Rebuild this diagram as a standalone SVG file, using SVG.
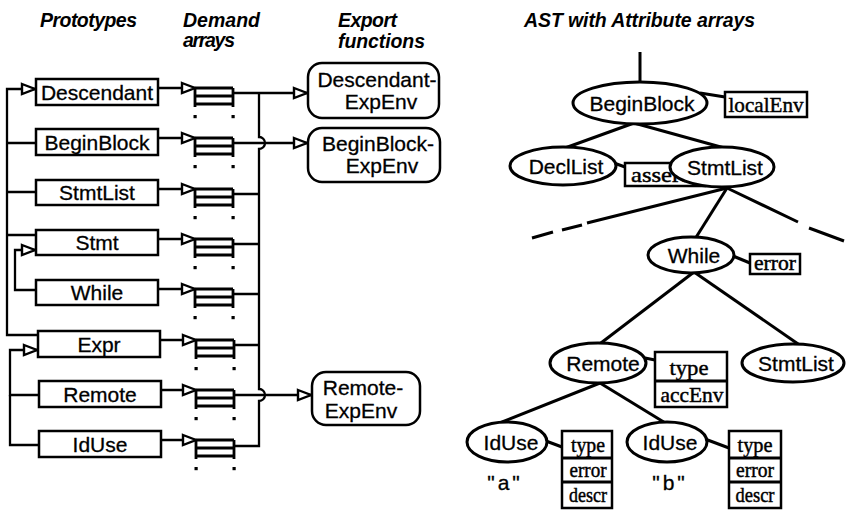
<svg xmlns="http://www.w3.org/2000/svg" width="848" height="510" viewBox="0 0 848 510">
  <style>
    .bg { fill: #ffffff; }
    .head { font-family: "Liberation Sans", Arial, sans-serif; font-style: italic; font-weight: bold; font-size: 19.5px; fill: #000; }
    .lbl { font-family: "Liberation Sans", Arial, sans-serif; font-size: 21px; fill: #000; text-anchor: middle; stroke: #000; stroke-width: 0.3px; }
    .attr { font-family: "Liberation Serif", "Times New Roman", serif; font-size: 22px; fill: #000; text-anchor: middle; stroke: #000; stroke-width: 0.45px; }
    .attr-s { font-size: 21px; }
    .box { fill: #fff; stroke: #000; stroke-width: 2.5; }
    .node { fill: #fff; stroke: #000; stroke-width: 3; }
    .wire { fill: none; stroke: #000; stroke-width: 2.3; }
    .edge { fill: none; stroke: #000; stroke-width: 3; stroke-linecap: butt; }
    .cell { fill: none; stroke: #000; stroke-width: 2.8; }
    .dot { fill: #000; }
  </style>
  <defs>
    <marker id="tri" markerUnits="userSpaceOnUse" viewBox="-2 -7 17 14" markerWidth="17" markerHeight="14" refX="13" refY="0" orient="auto">
      <path d="M0,-5 L13,0 L0,5 Z" fill="#fff" stroke="#000" stroke-width="2.4" stroke-linejoin="miter"/>
    </marker>
    <!-- demand array icon: three stacked cells with continuation dots -->
    <g id="demand">
      <path class="cell" d="M0,0 H38 M0,8 H38 M0,16 H38 M0,0 V19 M38,0 V19"/>
      <rect class="dot" x="-1.5" y="27" width="3.2" height="3.2"/>
      <rect class="dot" x="36.5" y="27" width="3.2" height="3.2"/>
    </g>
  </defs>

  <rect class="bg" x="0" y="0" width="848" height="510"/>

  <!-- column headings -->
  <g id="headings">
    <text class="head" x="40" y="27" textLength="97">Prototypes</text>
    <text class="head" x="183" y="27" textLength="77">Demand</text>
    <text class="head" x="183" y="47" textLength="52">arrays</text>
    <text class="head" x="338" y="27" textLength="59">Export</text>
    <text class="head" x="338" y="48" textLength="87">functions</text>
    <text class="head" x="524" y="27" textLength="231">AST with Attribute arrays</text>
  </g>

  <!-- connectors -->
  <g id="connectors">
    <!-- left bus into the prototypes -->
    <path class="wire" d="M38,335 H7 V89 H35" marker-end="url(#tri)"/>
    <path class="wire" d="M7,143 H37 M7,192 H37 M7,235 H37"/>
    <path class="wire" d="M37,290 H15 V250 H35" marker-end="url(#tri)"/>
    <path class="wire" d="M39,395 H10 V350 H37" marker-end="url(#tri)"/>
    <path class="wire" d="M39,445 H10 V395"/>

    <!-- prototype to demand array -->
    <path class="wire" d="M158,88 H195" marker-end="url(#tri)"/>
    <path class="wire" d="M158,138 H195" marker-end="url(#tri)"/>
    <path class="wire" d="M158,189 H195" marker-end="url(#tri)"/>
    <path class="wire" d="M158,239 H195" marker-end="url(#tri)"/>
    <path class="wire" d="M158,289 H195" marker-end="url(#tri)"/>
    <path class="wire" d="M160,340 H196" marker-end="url(#tri)"/>
    <path class="wire" d="M160,390 H196" marker-end="url(#tri)"/>
    <path class="wire" d="M160,440 H196" marker-end="url(#tri)"/>

    <!-- demand arrays to export functions -->
    <path class="wire" d="M234,93 H307" marker-end="url(#tri)"/>
    <path class="wire" d="M234,143 H307" marker-end="url(#tri)"/>
    <path class="wire" d="M235,395 H311" marker-end="url(#tri)"/>
    <path class="wire" d="M259,93 V137 A6,6 0 0 1 259,149 V389 A6,6 0 0 1 259,401 V446 H235"/>
    <path class="wire" d="M234,194 H259 M234,244 H259 M234,294 H259 M235,345 H259"/>

    <!-- AST edges -->
    <path class="edge" d="M640,52 V82"/>
    <path class="edge" d="M700,93 L725,97"/>
    <path class="edge" d="M634,123 L565,148"/>
    <path class="edge" d="M634,123 L728,149"/>
    <path class="edge" d="M614,163 L625,167"/>
    <path class="edge" d="M727,188 L695,239"/>
    <path class="edge" d="M727,188 L587,223 M582,225 L562,230 M553,232 L532,238"/>
    <path class="edge" d="M727,188 L798,222 M809,228 L844,241"/>
    <path class="edge" d="M733,256 L750,263"/>
    <path class="edge" d="M694,272 L597,346"/>
    <path class="edge" d="M694,272 L801,346"/>
    <path class="edge" d="M645,358 L655,360"/>
    <path class="edge" d="M600,383 L497,424"/>
    <path class="edge" d="M600,383 L667,424"/>
    <path class="edge" d="M546,441 L562,447"/>
    <path class="edge" d="M705,439 L729,448"/>
  </g>

  <!-- prototypes -->
  <g id="proto-descendant"><rect class="box" x="36" y="79" width="122" height="26"/><text class="lbl" x="97" y="99.5">Descendant</text></g>
  <g id="proto-beginblock"><rect class="box" x="36" y="129" width="122" height="26"/><text class="lbl" x="97" y="149.5">BeginBlock</text></g>
  <g id="proto-stmtlist"><rect class="box" x="36" y="180" width="122" height="25"/><text class="lbl" x="97" y="200">StmtList</text></g>
  <g id="proto-stmt"><rect class="box" x="36" y="230" width="122" height="25"/><text class="lbl" x="97" y="250">Stmt</text></g>
  <g id="proto-while"><rect class="box" x="36" y="280" width="122" height="25"/><text class="lbl" x="97" y="300">While</text></g>
  <g id="proto-expr"><rect class="box" x="38" y="331" width="122" height="26"/><text class="lbl" x="99" y="351.5">Expr</text></g>
  <g id="proto-remote"><rect class="box" x="39" y="381" width="122" height="26"/><text class="lbl" x="100" y="401.5">Remote</text></g>
  <g id="proto-iduse"><rect class="box" x="39" y="431" width="122" height="26"/><text class="lbl" x="100" y="451.5">IdUse</text></g>

  <!-- demand arrays -->
  <g id="demand-descendant"><use href="#demand" x="195" y="88"/></g>
  <g id="demand-beginblock"><use href="#demand" x="195" y="138"/></g>
  <g id="demand-stmtlist"><use href="#demand" x="195" y="189"/></g>
  <g id="demand-stmt"><use href="#demand" x="195" y="239"/></g>
  <g id="demand-while"><use href="#demand" x="195" y="289"/></g>
  <g id="demand-expr"><use href="#demand" x="196" y="340"/></g>
  <g id="demand-remote"><use href="#demand" x="196" y="390"/></g>
  <g id="demand-iduse"><use href="#demand" x="196" y="440"/></g>

  <!-- export functions -->
  <g id="export-descendant">
    <rect class="box" x="308" y="63" width="131" height="55" rx="14"/>
    <text class="lbl" x="377" y="87">Descendant-</text>
    <text class="lbl" x="381" y="109">ExpEnv</text>
  </g>
  <g id="export-beginblock">
    <rect class="box" x="308" y="128" width="132" height="54" rx="14"/>
    <text class="lbl" x="378" y="151">BeginBlock-</text>
    <text class="lbl" x="382" y="173">ExpEnv</text>
  </g>
  <g id="export-remote">
    <rect class="box" x="312" y="372" width="108" height="53" rx="14"/>
    <text class="lbl" x="363" y="395">Remote-</text>
    <text class="lbl" x="361" y="418">ExpEnv</text>
  </g>

  <!-- AST nodes -->
  <g id="ast-beginblock">
    <ellipse class="node" cx="640" cy="103" rx="67" ry="21"/>
    <text class="lbl" x="642" y="110.5">BeginBlock</text>
    <rect class="box" x="725" y="92" width="82" height="25"/>
    <text class="attr" x="766" y="112" textLength="75" lengthAdjust="spacingAndGlyphs">localEnv</text>
  </g>
  <g id="ast-decllist">
    <ellipse class="node" cx="563" cy="166" rx="53" ry="19"/>
    <text class="lbl" x="566" y="173.5">DeclList</text>
    <rect class="box" x="625" y="163" width="80" height="23"/>
    <text class="attr" x="631" y="182" style="text-anchor:start" textLength="56" lengthAdjust="spacingAndGlyphs">assert</text>
  </g>
  <g id="ast-stmtlist">
    <ellipse class="node" cx="722" cy="167" rx="52" ry="20"/>
    <text class="lbl" x="725" y="174.5">StmtList</text>
  </g>
  <g id="ast-while">
    <ellipse class="node" cx="691" cy="255" rx="43" ry="18"/>
    <text class="lbl" x="694" y="262.5">While</text>
    <rect class="box" x="750" y="254" width="50" height="20"/>
    <text class="attr attr-s" x="775" y="270" textLength="42" lengthAdjust="spacingAndGlyphs">error</text>
  </g>
  <g id="ast-remote">
    <ellipse class="node" cx="598" cy="363" rx="48" ry="20"/>
    <text class="lbl" x="603" y="370.5">Remote</text>
    <rect class="box" x="655" y="352" width="72" height="55"/>
    <path class="cell" d="M655,381 H727"/>
    <text class="attr" x="689" y="375" textLength="39" lengthAdjust="spacingAndGlyphs">type</text>
    <text class="attr" x="692" y="402" textLength="63" lengthAdjust="spacingAndGlyphs">accEnv</text>
  </g>
  <g id="ast-stmtlist-2">
    <ellipse class="node" cx="793" cy="363" rx="51" ry="19"/>
    <text class="lbl" x="796" y="370.5">StmtList</text>
  </g>
  <g id="ast-iduse-a">
    <ellipse class="node" cx="507" cy="442" rx="40" ry="20"/>
    <text class="lbl" x="511" y="449.5">IdUse</text>
    <rect class="box" x="562" y="431" width="50" height="77"/>
    <path class="cell" d="M562,458 H612 M562,482 H612"/>
    <text class="attr attr-s" x="588" y="452" textLength="34" lengthAdjust="spacingAndGlyphs">type</text>
    <text class="attr attr-s" x="588" y="477" textLength="37" lengthAdjust="spacingAndGlyphs">error</text>
    <text class="attr attr-s" x="588" y="502" textLength="38" lengthAdjust="spacingAndGlyphs">descr</text>
    <text class="lbl" x="505" y="490" style="letter-spacing:3px">"a"</text>
  </g>
  <g id="ast-iduse-b">
    <ellipse class="node" cx="667" cy="442" rx="40" ry="20"/>
    <text class="lbl" x="670" y="449.5">IdUse</text>
    <rect class="box" x="729" y="431" width="52" height="77"/>
    <path class="cell" d="M729,458 H781 M729,482 H781"/>
    <text class="attr attr-s" x="755" y="452" textLength="35" lengthAdjust="spacingAndGlyphs">type</text>
    <text class="attr attr-s" x="755" y="477" textLength="38" lengthAdjust="spacingAndGlyphs">error</text>
    <text class="attr attr-s" x="755" y="502" textLength="39" lengthAdjust="spacingAndGlyphs">descr</text>
    <text class="lbl" x="670" y="490" style="letter-spacing:3px">"b"</text>
  </g>
</svg>
